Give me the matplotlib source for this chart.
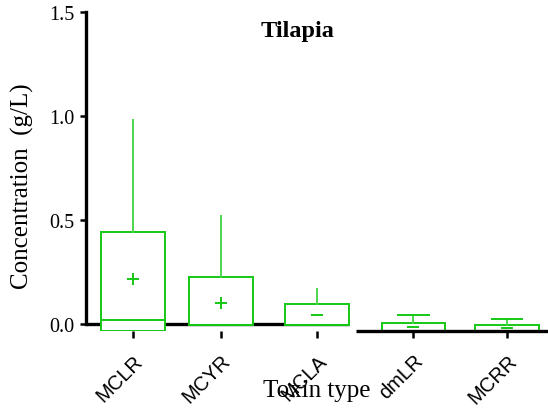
import matplotlib
matplotlib.use("Agg")
import matplotlib.pyplot as plt

# ── Data (g/L) ────────────────────────────────────────────────────────────────
toxins   = ["MCLR", "MCYR", "MCLA", "dmLR", "MCRR"]
q1       = [-0.034, -0.005, -0.005, -0.034, -0.034]
median   = [0.020, -0.005, -0.005, -0.034, -0.034]
q3       = [0.440, 0.226, 0.098, 0.003, -0.003]
whis_lo  = [-0.034, -0.005, -0.005, -0.034, -0.034]
whis_hi  = [0.980, 0.520, 0.168, 0.045, 0.024]
means    = [0.216, 0.100, 0.043, -0.016, -0.019]
mean_mk  = ["+", "+", "_", "_", "_"]
has_cap  = [False, False, False, True, True]

yticks      = [0.0, 0.5, 1.0, 1.5]
ytick_text  = ["0.0", "0.5", "1.0", "1.5"]

# ── Style ─────────────────────────────────────────────────────────────────────
positions = [0, 0.94, 1.97, 3.0, 4.0]
box_w     = 0.68
cap_w     = 0.33
green     = "#14c814"
green_lt  = "#4cd64c"
serif     = "Liberation Serif"
sans      = "Liberation Sans"

fig = plt.figure(figsize=(5.48, 4.10), dpi=100)
ax = fig.add_axes([86 / 548, 1 - 332.3 / 410, 462 / 548, (332.3 - 13) / 410])

stats = []
for i, name in enumerate(toxins):
    stats.append(dict(label=name, q1=q1[i], med=median[i], q3=q3[i],
                      whislo=whis_lo[i], whishi=whis_hi[i], mean=means[i]))

bp = ax.bxp(stats, positions=positions, widths=box_w, capwidths=cap_w,
            showfliers=False, showmeans=False, patch_artist=True,
            boxprops=dict(facecolor="white", edgecolor=green, linewidth=1.4),
            medianprops=dict(color=green, linewidth=1.4),
            whiskerprops=dict(color=green_lt, linewidth=1.4),
            capprops=dict(color=green, linewidth=1.4),
            manage_ticks=False, zorder=2)

for i, cap_on in enumerate(has_cap):
    bp["caps"][2 * i].set_visible(False)
    bp["caps"][2 * i + 1].set_visible(cap_on)

for x, m, mk in zip(positions, means, mean_mk):
    ax.plot(x, m, marker=mk, color=green, markersize=9, markeredgewidth=1.4,
            linestyle="none", zorder=4)

# broken baseline like the original export
x_lo, x_hi = -0.503, 4.439
seg_end = positions[2] + box_w / 2
ax.plot([x_lo, seg_end], [0, 0], color="black", linewidth=2.4,
        solid_capstyle="butt", zorder=1, clip_on=False)
ax.plot([seg_end + 0.07, x_hi], [q1[3], q1[3]], color="black", linewidth=2.4,
        solid_capstyle="butt", zorder=3, clip_on=False)

ax.set_xlim(x_lo, x_hi)
ax.set_ylim(-0.035, 1.5)

for side in ["top", "right", "bottom"]:
    ax.spines[side].set_visible(False)
ax.spines["left"].set_bounds(0, 1.5)
ax.spines["left"].set_linewidth(2.4)

ax.set_yticks(yticks)
ax.set_yticklabels(ytick_text, fontfamily=serif, fontsize=14.5)
ax.tick_params(axis="y", direction="out", length=4.5, width=1.8, pad=4)

ax.set_xticks(positions)
ax.set_xticklabels(toxins, rotation=45, ha="right", va="top",
                   rotation_mode="anchor", fontfamily=sans, fontsize=14.5)
ax.tick_params(axis="x", direction="out", length=5, width=1.8, pad=9)

fig.text(22 / 548, 1 - 186.5 / 410, "Concentration  (g/L)", fontfamily=serif,
         fontsize=18, rotation=90, ha="center", va="center")
fig.text(317 / 548, 1 - 397 / 410, "Toxin type", fontfamily=serif,
         fontsize=18, ha="center", va="baseline")
fig.text(298 / 548, 1 - 32 / 410, "Tilapia", fontfamily=serif,
         fontsize=17.5, fontweight="bold", ha="center", va="center")

fig.savefig("out.png", dpi=100)
